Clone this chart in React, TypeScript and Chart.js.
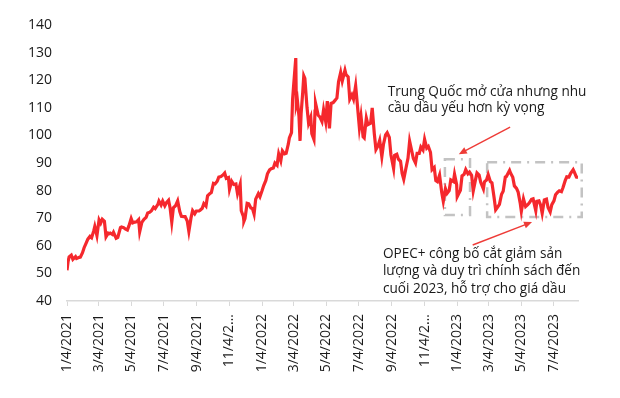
import React, { useEffect, useRef } from "react";
import { Chart, registerables } from "chart.js";

Chart.register(...registerables);

// ---------------- data ----------------
const dates: string[] = [
  "2021-01-04","2021-01-06","2021-01-08","2021-01-12","2021-01-15","2021-01-20","2021-01-22","2021-01-27","2021-01-29",
  "2021-02-02","2021-02-05","2021-02-09","2021-02-12","2021-02-16","2021-02-19","2021-02-23","2021-02-25",
  "2021-03-01","2021-03-05","2021-03-08","2021-03-11","2021-03-15","2021-03-18","2021-03-22","2021-03-24","2021-03-26","2021-03-30",
  "2021-04-01","2021-04-06","2021-04-09","2021-04-14","2021-04-16","2021-04-20","2021-04-23","2021-04-27","2021-04-30",
  "2021-05-04","2021-05-07","2021-05-11","2021-05-14","2021-05-18","2021-05-20","2021-05-24","2021-05-28",
  "2021-06-01","2021-06-04","2021-06-08","2021-06-11","2021-06-15","2021-06-18","2021-06-23","2021-06-25","2021-06-29",
  "2021-07-02","2021-07-06","2021-07-09","2021-07-13","2021-07-16","2021-07-19","2021-07-22","2021-07-26","2021-07-30",
  "2021-08-03","2021-08-06","2021-08-10","2021-08-13","2021-08-17","2021-08-20","2021-08-24","2021-08-27","2021-08-31",
  "2021-09-03","2021-09-08","2021-09-10","2021-09-14","2021-09-17","2021-09-21","2021-09-24","2021-09-28",
  "2021-10-01","2021-10-05","2021-10-08","2021-10-12","2021-10-15","2021-10-19","2021-10-22","2021-10-26","2021-10-29",
  "2021-11-02","2021-11-04","2021-11-08","2021-11-12","2021-11-16","2021-11-19","2021-11-24","2021-11-26","2021-11-30",
  "2021-12-01","2021-12-03","2021-12-07","2021-12-10","2021-12-14","2021-12-17","2021-12-20","2021-12-23","2021-12-28","2021-12-31",
  "2022-01-04","2022-01-07","2022-01-11","2022-01-14","2022-01-18","2022-01-21","2022-01-25","2022-01-28",
  "2022-02-01","2022-02-04","2022-02-08","2022-02-11","2022-02-15","2022-02-18","2022-02-22","2022-02-24","2022-02-28",
  "2022-03-02","2022-03-04","2022-03-08","2022-03-09","2022-03-11","2022-03-14","2022-03-16","2022-03-18","2022-03-21","2022-03-23","2022-03-25","2022-03-29",
  "2022-04-01","2022-04-05","2022-04-07","2022-04-11","2022-04-13","2022-04-14","2022-04-19","2022-04-22","2022-04-26","2022-04-29",
  "2022-05-03","2022-05-06","2022-05-10","2022-05-13","2022-05-17","2022-05-20","2022-05-24","2022-05-27","2022-05-31",
  "2022-06-03","2022-06-08","2022-06-10","2022-06-14","2022-06-17","2022-06-21","2022-06-24","2022-06-28",
  "2022-07-01","2022-07-05","2022-07-08","2022-07-12","2022-07-14","2022-07-18","2022-07-21","2022-07-26","2022-07-29",
  "2022-08-02","2022-08-05","2022-08-09","2022-08-12","2022-08-16","2022-08-19","2022-08-23","2022-08-26","2022-08-30",
  "2022-09-02","2022-09-07","2022-09-09","2022-09-13","2022-09-16","2022-09-20","2022-09-23","2022-09-26","2022-09-30",
  "2022-10-04","2022-10-07","2022-10-11","2022-10-14","2022-10-18","2022-10-21","2022-10-25","2022-10-28",
  "2022-11-01","2022-11-04","2022-11-08","2022-11-11","2022-11-15","2022-11-18","2022-11-22","2022-11-25","2022-11-28",
  "2022-12-02","2022-12-06","2022-12-09","2022-12-13","2022-12-16","2022-12-20","2022-12-23","2022-12-28","2022-12-30",
  "2023-01-03","2023-01-04","2023-01-06","2023-01-10","2023-01-13","2023-01-17","2023-01-20","2023-01-24","2023-01-27","2023-01-31",
  "2023-02-03","2023-02-07","2023-02-10","2023-02-14","2023-02-17","2023-02-22","2023-02-24","2023-02-28",
  "2023-03-03","2023-03-07","2023-03-10","2023-03-14","2023-03-17","2023-03-20","2023-03-24","2023-03-28","2023-03-31",
  "2023-04-04","2023-04-06","2023-04-12","2023-04-14","2023-04-18","2023-04-21","2023-04-25","2023-04-28",
  "2023-05-02","2023-05-04","2023-05-08","2023-05-12","2023-05-16","2023-05-19","2023-05-23","2023-05-26","2023-05-31",
  "2023-06-02","2023-06-06","2023-06-09","2023-06-12","2023-06-16","2023-06-20","2023-06-23","2023-06-27","2023-06-30",
  "2023-07-04","2023-07-07","2023-07-11","2023-07-14","2023-07-18","2023-07-21","2023-07-25","2023-07-28",
  "2023-08-01","2023-08-04","2023-08-09","2023-08-11","2023-08-15","2023-08-18",
];

const prices: number[] = [
  51.1,54.3,56.0,56.6,55.1,56.1,55.4,55.8,55.9,
  57.5,59.3,61.1,62.4,63.4,62.9,65.4,67.0,
  63.7,69.4,68.2,69.6,68.9,63.3,64.6,64.4,64.6,64.1,
  64.9,62.7,63.0,66.6,66.8,66.6,66.1,65.7,67.3,
  69.9,68.3,68.6,68.7,69.5,65.1,68.5,69.6,
  70.3,71.9,72.2,72.7,74.0,73.5,75.0,76.2,74.8,
  76.2,74.5,75.6,76.5,73.6,68.6,73.8,74.5,76.3,
  72.4,70.7,70.6,70.6,69.0,65.2,70.1,72.7,71.6,
  72.6,72.6,72.9,73.6,75.3,74.4,78.1,78.9,
  79.3,82.6,82.4,83.4,84.9,85.1,85.5,86.4,84.4,
  84.7,80.5,83.4,82.2,82.4,78.9,82.3,72.7,70.6,
  68.9,69.9,75.4,75.2,73.7,73.5,71.5,76.9,78.9,77.8,
  80.0,81.8,83.7,86.1,87.5,87.9,88.2,90.0,
  89.2,93.3,90.8,94.4,93.3,93.5,96.8,99.1,101.0,
  112.9,118.1,128.0,111.1,112.7,106.9,98.0,107.9,115.6,121.6,120.7,110.2,
  104.4,106.6,100.6,98.5,108.8,111.7,107.3,106.7,105.0,109.3,
  105.0,112.4,102.5,111.6,111.9,112.6,113.6,119.4,122.8,
  119.7,123.6,122.0,121.2,113.1,114.7,113.1,118.0,
  111.6,102.8,107.0,99.5,99.1,106.3,103.9,104.4,110.0,
  100.5,94.9,96.3,98.2,92.3,96.7,100.2,101.0,99.3,
  93.0,88.0,92.8,93.2,91.4,90.6,86.2,84.1,88.0,
  91.8,97.9,94.3,91.6,90.0,93.5,93.5,95.8,
  94.7,98.6,95.4,96.0,93.9,87.6,88.4,83.6,83.2,
  85.6,79.4,76.1,80.7,79.0,80.0,83.9,83.3,85.9,
  82.1,77.8,78.6,80.1,85.3,85.9,87.6,86.1,86.7,85.5,
  79.9,83.7,86.4,85.6,83.0,80.6,83.2,83.9,
  85.8,83.3,82.8,77.5,73.0,73.8,75.0,78.7,79.8,
  84.9,85.1,87.3,86.3,84.8,81.7,80.8,79.5,
  75.3,72.5,77.0,74.2,74.9,75.6,76.8,77.0,72.7,
  76.1,76.3,74.8,71.8,76.6,76.9,73.9,72.3,74.9,
  76.3,78.5,79.4,79.9,79.6,81.1,83.6,85.0,
  84.9,86.2,87.6,86.8,84.9,84.8,
];

const tickDates: string[] = [
  "2021-01-04","2021-03-04","2021-05-04","2021-07-04","2021-09-04","2021-11-04",
  "2022-01-04","2022-03-04","2022-05-04","2022-07-04","2022-09-04","2022-11-04",
  "2023-01-04","2023-03-04","2023-05-04","2023-07-04",
];
const tickLabels: string[] = [
  "1/4/2021","3/4/2021","5/4/2021","7/4/2021","9/4/2021","11/4/2…",
  "1/4/2022","3/4/2022","5/4/2022","7/4/2022","9/4/2022","11/4/2…",
  "1/4/2023","3/4/2023","5/4/2023","7/4/2023",
];

const noteChina: string[] = ["Trung Quốc mở cửa nhưng nhu", "cầu dầu yếu hơn kỳ vọng"];
const noteOpec: string[] = [
  "OPEC+ công bố cắt giảm sản",
  "lượng và duy trì chính sách đến",
  "cuối 2023, hỗ trợ cho giá dầu",
];

// annotation anchors in data units: [day offset from first date, price]
const chinaTextAt: [number, number] = [600, 114.3];
const opecTextAt: [number, number] = [591, 55.6];
const chinaArrow: [number, number, number, number] = [829, 103.0, 733, 93.2];
const opecArrow: [number, number, number, number] = [759, 60.3, 870, 68.6];
const boxA: [number, number, number, number] = [707, 91.4, 754, 71.2];
const boxB: [number, number, number, number] = [786, 90.3, 963, 70.4];

const DAY0 = Date.UTC(2021, 0, 4);
const toDay = (s: string) => {
  const [y, m, d] = s.split("-").map(Number);
  return Math.round((Date.UTC(y, m - 1, d) - DAY0) / 86400000);
};

const FONT = "'Open Sans', 'Noto Sans', sans-serif";

export default function App() {
  const ref = useRef<HTMLCanvasElement | null>(null);

  useEffect(() => {
    if (!ref.current) return;
    const points = dates.map((d, i) => ({ x: toDay(d), y: prices[i] }));
    const tickDays = tickDates.map(toDay);
    const lastDay = points[points.length - 1].x;

    const annot = {
      id: "annot",
      beforeDatasetsDraw(chart: any) {
        const { ctx, scales } = chart;
        const xs = scales.x, ys = scales.y;
        ctx.save();
        ctx.strokeStyle = "#c3c3c3";
        ctx.lineWidth = 2.5;
        ctx.setLineDash([10, 6, 2, 6]);
        for (const b of [boxA, boxB]) {
          const x1 = xs.getPixelForValue(b[0]);
          const y1 = ys.getPixelForValue(b[1]);
          const x2 = xs.getPixelForValue(b[2]);
          const y2 = ys.getPixelForValue(b[3]);
          ctx.strokeRect(x1, y1, x2 - x1, y2 - y1);
        }
        ctx.restore();
      },
      afterDraw(chart: any) {
        const { ctx, scales } = chart;
        const xs = scales.x, ys = scales.y;
        ctx.save();
        const arrow = (a: [number, number, number, number]) => {
          const x1 = xs.getPixelForValue(a[0]);
          const y1 = ys.getPixelForValue(a[1]);
          const x2 = xs.getPixelForValue(a[2]);
          const y2 = ys.getPixelForValue(a[3]);
          const ang = Math.atan2(y2 - y1, x2 - x1);
          const hl = 8, hw = 3.5;
          ctx.strokeStyle = "#ee3b37";
          ctx.fillStyle = "#ee3b37";
          ctx.lineWidth = 1.4;
          ctx.beginPath();
          ctx.moveTo(x1, y1);
          ctx.lineTo(x2 - Math.cos(ang) * hl * 0.8, y2 - Math.sin(ang) * hl * 0.8);
          ctx.stroke();
          ctx.beginPath();
          ctx.moveTo(x2, y2);
          ctx.lineTo(x2 - Math.cos(ang) * hl - Math.sin(ang) * hw, y2 - Math.sin(ang) * hl + Math.cos(ang) * hw);
          ctx.lineTo(x2 - Math.cos(ang) * hl + Math.sin(ang) * hw, y2 - Math.sin(ang) * hl - Math.cos(ang) * hw);
          ctx.closePath();
          ctx.fill();
        };
        arrow(chinaArrow);
        arrow(opecArrow);
        ctx.fillStyle = "#1a1a1a";
        ctx.font = `13.6px ${FONT}`;
        ctx.textAlign = "left";
        ctx.textBaseline = "alphabetic";
        const text = (lines: string[], at: [number, number], lh: number) => {
          const x = xs.getPixelForValue(at[0]);
          const y = ys.getPixelForValue(at[1]);
          lines.forEach((l, i) => ctx.fillText(l, x, y + i * lh));
        };
        text(noteChina, chinaTextAt, 16.5);
        text(noteOpec, opecTextAt, 17.5);
        ctx.restore();
      },
    };

    const chart = new Chart(ref.current, {
      type: "line",
      data: {
        datasets: [
          {
            data: points,
            borderColor: "#f5282d",
            borderWidth: 3.2,
            pointRadius: 0,
            tension: 0,
            fill: false,
          },
        ],
      },
      options: {
        animation: false,
        responsive: false,
        parsing: false as any,
        layout: { padding: { top: 25, right: 42, left: 0, bottom: 0 } },
        plugins: { legend: { display: false }, tooltip: { enabled: false } },
        scales: {
          x: {
            type: "linear",
            min: 0,
            max: lastDay,
            afterBuildTicks: (s: any) => {
              s.ticks = tickDays.map((v) => ({ value: v }));
            },
            afterFit: (s: any) => {
              s.height = 97;
            },
            grid: {
              display: true,
              drawOnChartArea: false,
              drawTicks: true,
              tickLength: 5,
              color: "#d9d9d9",
            },
            border: { display: true, color: "#d9d9d9", width: 1.5 },
            ticks: {
              autoSkip: false,
              minRotation: 90,
              maxRotation: 90,
              padding: 8,
              color: "#1a1a1a",
              font: { family: FONT, size: 14 },
              callback: (v: any) => {
                const i = tickDays.indexOf(Number(v));
                return i >= 0 ? tickLabels[i] : "";
              },
            },
          },
          y: {
            min: 40,
            max: 140,
            afterFit: (s: any) => {
              s.width = 67;
            },
            grid: { display: false, drawTicks: false },
            border: { display: false },
            ticks: {
              stepSize: 10,
              padding: 15,
              color: "#1a1a1a",
              font: { family: FONT, size: 14 },
            },
          },
        },
      },
      plugins: [annot],
    });
    return () => chart.destroy();
  }, []);

  return (
    <div style={{ position: "fixed", left: 0, top: 0, width: 620, height: 398, background: "#fff" }}>
      <canvas ref={ref} width={620} height={398} style={{ width: 620, height: 398 }} />
    </div>
  );
}
